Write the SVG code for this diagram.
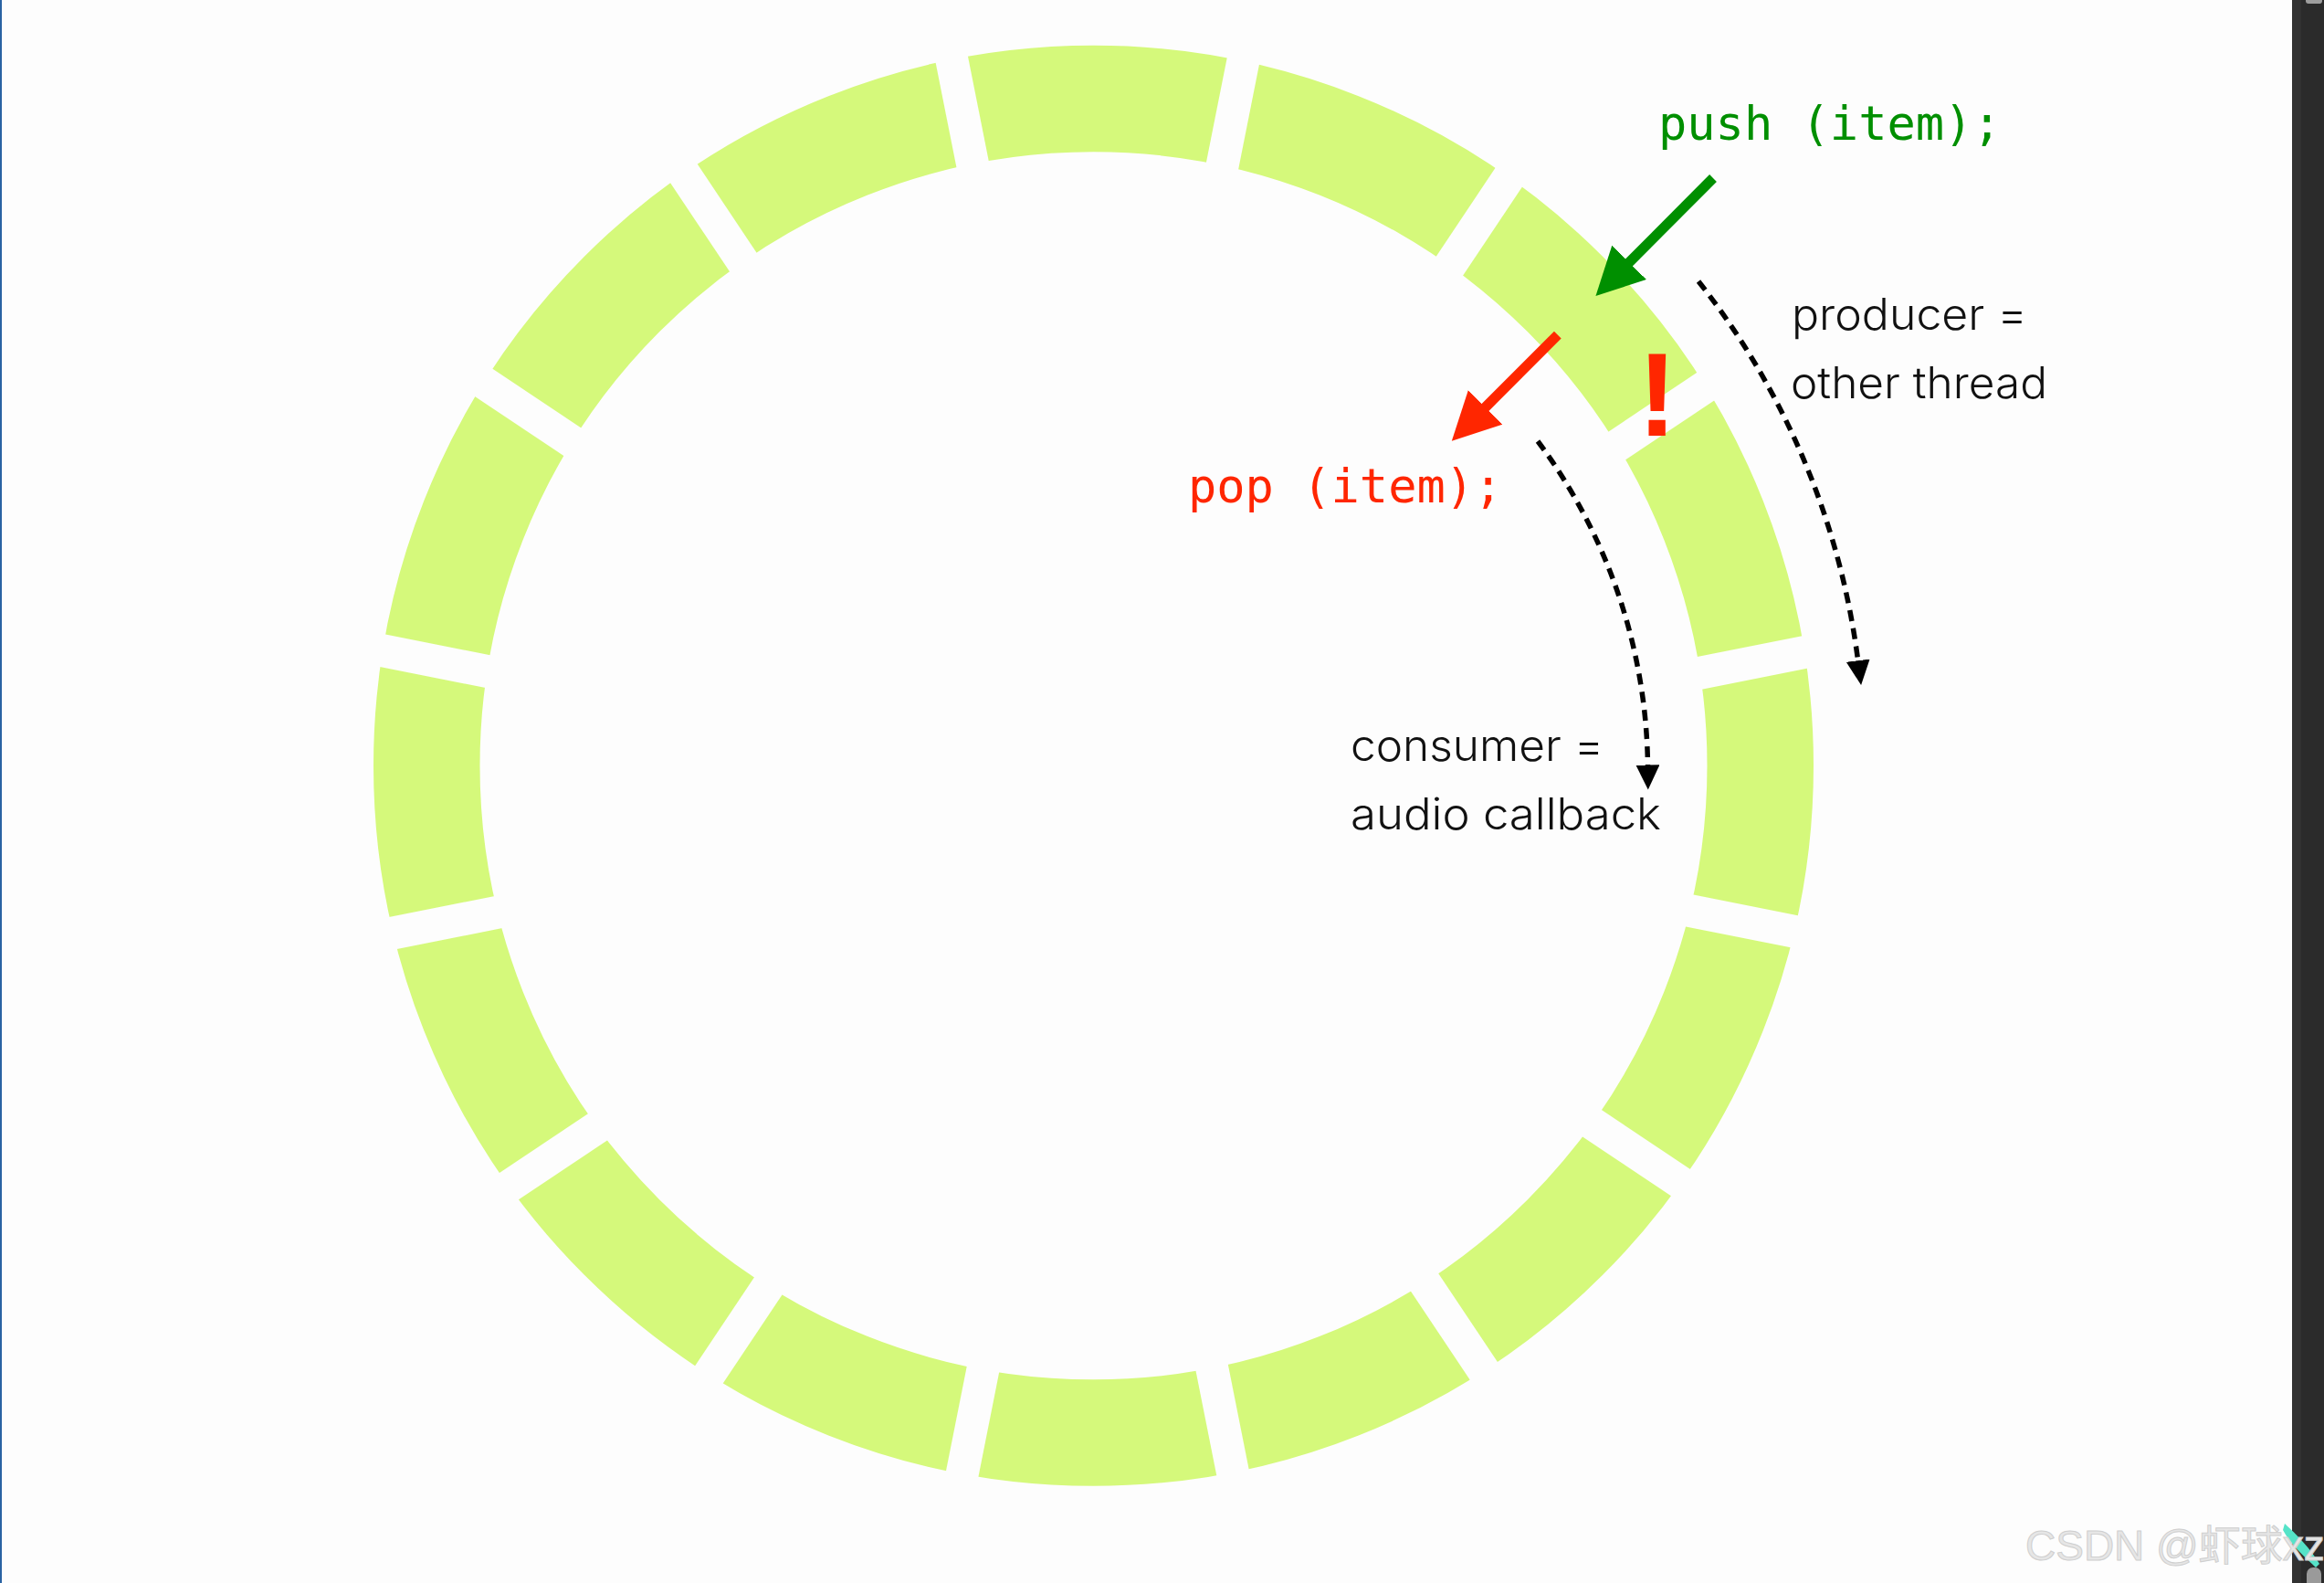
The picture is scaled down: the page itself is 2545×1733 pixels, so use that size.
<svg xmlns="http://www.w3.org/2000/svg" width="2545" height="1733" viewBox="0 0 2545 1733">
  <style>
    .mono { font-family: "DejaVu Sans Mono", "Liberation Mono", monospace; font-size: 52px; }
    .label { font-family: Inter, "Liberation Sans", sans-serif; font-weight: 300; font-size: 48px; fill: #111; }
    .dotted { fill: none; stroke: #000; stroke-width: 5.5; stroke-dasharray: 12 8; }
    .solid { fill: none; stroke-width: 11; stroke-linecap: butt; }
  </style>
  <defs>
    <mask id="gaps" maskUnits="userSpaceOnUse" x="0" y="0" width="2545" height="1733">
      <rect x="0" y="0" width="2545" height="1733" fill="#fff"/>
      <g transform="translate(1202 868)" stroke="#000" stroke-width="36">
        <line x1="0" y1="-1000" x2="0" y2="1000" transform="rotate(11.25)"/>
        <line x1="0" y1="-1000" x2="0" y2="1000" transform="rotate(33.75)"/>
        <line x1="0" y1="-1000" x2="0" y2="1000" transform="rotate(56.25)"/>
        <line x1="0" y1="-1000" x2="0" y2="1000" transform="rotate(78.75)"/>
        <line x1="0" y1="-1000" x2="0" y2="1000" transform="rotate(101.25)"/>
        <line x1="0" y1="-1000" x2="0" y2="1000" transform="rotate(123.75)"/>
        <line x1="0" y1="-1000" x2="0" y2="1000" transform="rotate(146.25)"/>
        <line x1="0" y1="-1000" x2="0" y2="1000" transform="rotate(168.75)"/>
      </g>
    </mask>
    <marker id="headGreen" markerUnits="userSpaceOnUse" markerWidth="60" markerHeight="60" refX="10" refY="26.5" orient="auto" viewBox="0 0 60 60">
      <path d="M0,0 L52,26.5 L0,53 Z" fill="#008f00"/>
    </marker>
    <marker id="headRed" markerUnits="userSpaceOnUse" markerWidth="60" markerHeight="60" refX="10" refY="26.5" orient="auto" viewBox="0 0 60 60">
      <path d="M0,0 L52,26.5 L0,53 Z" fill="#ff2600"/>
    </marker>
    <marker id="headBlack" markerUnits="userSpaceOnUse" markerWidth="30" markerHeight="30" refX="1" refY="13" orient="auto" viewBox="0 0 30 30">
      <path d="M0,0 L27,13 L0,26 Z" fill="#000"/>
    </marker>
  </defs>

  <rect x="0" y="0" width="2545" height="1733" fill="#fdfdfd"/>
  <rect x="0" y="0" width="2" height="1733" fill="#2a63a3"/>

  <g id="ring-buffer">
    <circle cx="1197.5" cy="838.3" r="730.25" fill="none" stroke="#d5f97b" stroke-width="116.5" mask="url(#gaps)"/>
  </g>

  <g id="connectors">
    <line class="solid" stroke="#008f00" x1="1876" y1="195" x2="1777.1" y2="294.3" marker-end="url(#headGreen)"/>
    <line class="solid" stroke="#ff2600" x1="1705.8" y1="366.7" x2="1619.5" y2="453" marker-end="url(#headRed)"/>
    <path class="dotted" d="M1860,308 A845,845 0 0 1 2034.8,724.2" marker-end="url(#headBlack)"/>
    <path class="dotted" d="M1684,483 A606,606 0 0 1 1804.5,838.5" marker-end="url(#headBlack)"/>
  </g>

  <g id="push-label">
    <text class="mono" x="1816" y="153" fill="#008f00">push (item);</text>
  </g>
  <g id="pop-label">
    <text class="mono" x="1301" y="550" fill="#ff2600">pop (item);</text>
  </g>
  <g id="conflict-mark">
    <text x="1815" y="477" text-anchor="middle" font-family="Liberation Sans, Arial, sans-serif" font-weight="bold" font-size="130" fill="#ff2600">!</text>
  </g>
  <g id="producer-label">
    <text class="label" x="1962" y="361" textLength="258" lengthAdjust="spacingAndGlyphs">producer =</text>
    <text class="label" x="1961" y="436" textLength="281" lengthAdjust="spacingAndGlyphs">other thread</text>
  </g>
  <g id="consumer-label">
    <text class="label" x="1479" y="833" textLength="277" lengthAdjust="spacingAndGlyphs">consumer =</text>
    <text class="label" x="1479" y="908" textLength="340" lengthAdjust="spacingAndGlyphs">audio callback</text>
  </g>

  <g id="side-bar">
    <rect x="2510" y="0" width="35" height="1733" fill="#2b2b2b"/>
    <rect x="2510" y="0" width="10" height="1733" fill="#323232"/>
    <rect x="2525" y="-4" width="18" height="8" rx="3" fill="#9e9e9e"/>
    <path d="M2502,1668 C2515,1680 2530,1695 2540,1712 L2536,1716 C2522,1703 2508,1690 2500,1675 Z" fill="#55e3c8"/>
    <rect x="2526" y="1716" width="16" height="24" rx="7" fill="#9a9a9a"/>
  </g>

  <g id="watermark">
    <text x="2218" y="1708" font-family="Liberation Sans, 'Noto Sans CJK SC', sans-serif" font-size="46" fill="#e6e6e6" stroke="#cfcfcf" stroke-width="1">CSDN @虾球xz</text>
  </g>
</svg>
